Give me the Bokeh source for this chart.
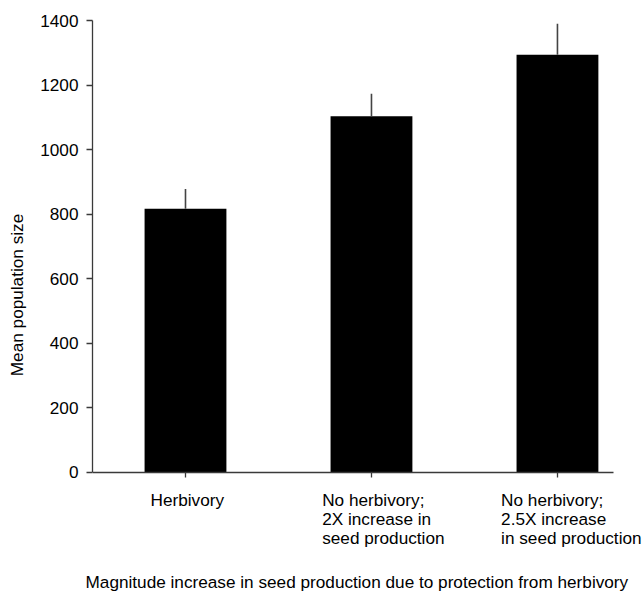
from bokeh.plotting import figure
from bokeh.models import ColumnDataSource, Label, FixedTicker, Range1d, Title
from bokeh.embed import file_html
from bokeh.resources import INLINE

# Treatments, mean population size and standard error
categories = [
    "Herbivory",
    "No herbivory;\n2X increase in\nseed production",
    "No herbivory;\n2.5X increase\nin seed production",
]
means = [817, 1103, 1294]
errors = [61, 70, 96]
y_ticks = [0, 200, 400, 600, 800, 1000, 1200, 1400]

FONT = "Liberation Sans"
FONT_SIZE = "17.2px"
AXIS_COLOR = "#3a3a3a"

xs = list(range(1, len(categories) + 1))
source = ColumnDataSource(dict(
    x=xs,
    mean=means,
    upper=[m + e for m, e in zip(means, errors)],
))

# The frame runs down past zero and out to the right edge so the category
# text can sit inside it; the axes are bounded/pinned at zero.
p = figure(
    width=644, height=591,
    x_range=Range1d(0.5, 3.468), y_range=Range1d(-301, 1400),
    x_axis_location="above",
    output_backend="svg", toolbar_location=None,
    min_border_left=92, min_border_right=0,
    min_border_top=20, min_border_bottom=0,
)
p.outline_line_color = None
p.grid.visible = False
p.background_fill_color = "white"
p.border_fill_color = "white"

# Bars and upward error whiskers
p.vbar(x="x", top="mean", bottom=0, width=0.44, source=source,
       fill_color="black", line_color=None)
p.segment(x0="x", y0="mean", x1="x", y1="upper", source=source,
          line_color="#444444", line_width=1.6)

# Y axis
ya = p.yaxis[0]
ya.bounds = (0, 1400)
ya.ticker = FixedTicker(ticks=y_ticks)
ya.minor_tick_line_color = None
ya.major_tick_in = 0
ya.major_tick_out = 6
ya.axis_line_color = AXIS_COLOR
ya.axis_line_width = 1.3
ya.major_tick_line_color = AXIS_COLOR
ya.major_tick_line_width = 1.3
ya.major_label_standoff = 8
ya.major_label_text_font = FONT
ya.major_label_text_font_size = FONT_SIZE
ya.major_label_text_color = "black"
ya.axis_label = "Mean population size"
ya.axis_label_text_font = FONT
ya.axis_label_text_font_size = FONT_SIZE
ya.axis_label_text_font_style = "normal"
ya.axis_label_text_color = "black"
ya.axis_label_standoff = 10

# X axis pinned at zero, ticks pointing down
xa = p.xaxis[0]
xa.fixed_location = 0
xa.bounds = (0.5, 3.30)
xa.ticker = FixedTicker(ticks=xs)
xa.minor_tick_line_color = None
xa.major_tick_in = 5
xa.major_tick_out = 0
xa.axis_line_color = AXIS_COLOR
xa.axis_line_width = 1.3
xa.major_tick_line_color = AXIS_COLOR
xa.major_tick_line_width = 1.3
xa.major_label_text_font_size = "0px"
xa.major_label_text_color = None

# Category text as left-aligned blocks under each bar
label_offsets = [-0.188, -0.265, -0.303]
label_y = -56
for xi, text, off in zip(xs, categories, label_offsets):
    p.add_layout(Label(
        x=xi + off, y=label_y, x_units="data", y_units="data",
        text=text, text_font=FONT, text_font_size=FONT_SIZE,
        text_color="black", text_align="left", text_baseline="top",
        text_line_height=0.95,
    ))

p.add_layout(Title(
    text="Magnitude increase in seed production due to protection from herbivory",
    text_font=FONT, text_font_size=FONT_SIZE, text_font_style="normal",
    text_color="black", align="left", offset=-7, standoff=0,
), "below")

open("out.html", "w").write(file_html(p, INLINE))
